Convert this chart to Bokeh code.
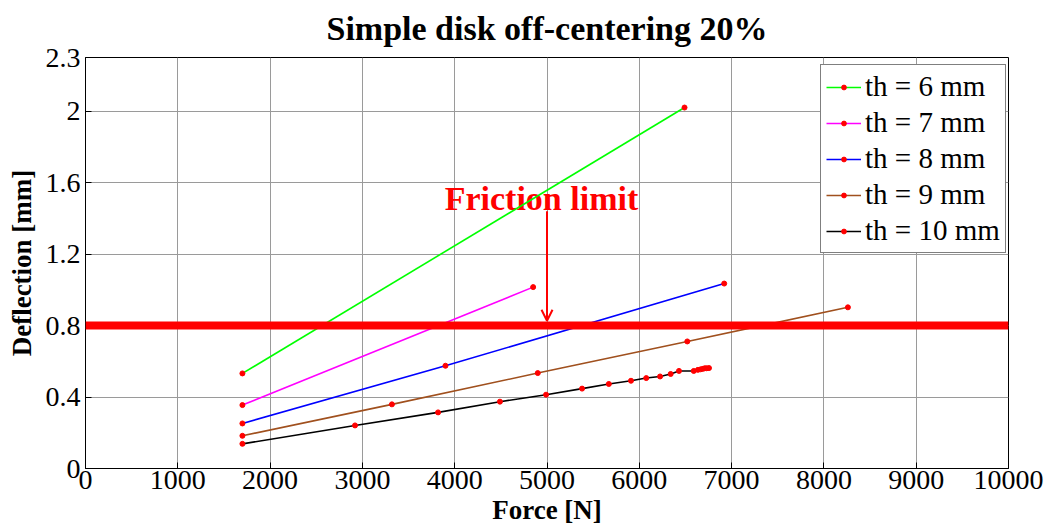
import math
from bokeh.plotting import figure
from bokeh.models import (Range1d, FixedTicker, CustomJSTickFormatter, Legend, LegendItem,
                          Span, Arrow, OpenHead, Label)
from bokeh.embed import file_html
from bokeh.resources import INLINE

# ---------------- data ----------------
title_text = "Simple disk off-centering 20%"
x_label = "Force [N]"
y_label = "Deflection [mm]"

series_labels = ["th = 6 mm", "th = 7 mm", "th = 8 mm", "th = 9 mm", "th = 10 mm"]
series_colors = ["#00FF00", "#FF00FF", "#0000FF", "#A0501E", "#000000"]

force_6 = [1700, 6490]
defl_6 = [0.532, 2.02]

force_7 = [1700, 4850]
defl_7 = [0.355, 1.015]

force_8 = [1700, 3900, 6920]
defl_8 = [0.252, 0.575, 1.035]

force_9 = [1700, 3320, 4900, 6520, 8260]
defl_9 = [0.183, 0.359, 0.534, 0.711, 0.902]

force_10 = [1700, 2920, 3820, 4490, 4990, 5380, 5670, 5910, 6075, 6225, 6340,
            6430, 6590, 6635, 6665, 6690, 6710, 6730, 6755]
defl_10 = [0.138, 0.241, 0.314, 0.374, 0.413, 0.447, 0.473, 0.491, 0.506, 0.515,
           0.529, 0.546, 0.546, 0.552, 0.555, 0.558, 0.561, 0.561, 0.562]

friction_limit = 0.8
friction_text = "Friction limit"
friction_arrow_x = 5000
friction_arrow_top = 1.44

x_ticks = [0, 1000, 2000, 3000, 4000, 5000, 6000, 7000, 8000, 9000, 10000]
y_ticks = [0, 0.4, 0.8, 1.2, 1.6, 2, 2.3]

forces = [force_6, force_7, force_8, force_9, force_10]
defls = [defl_6, defl_7, defl_8, defl_9, defl_10]

# ---------------- figure ----------------
FONT = "Liberation Serif"

p = figure(frame_width=923, frame_height=411,
           min_border_left=85, min_border_right=38,
           min_border_top=57, min_border_bottom=60,
           x_range=Range1d(0, 10000), y_range=Range1d(0, 2.3),
           output_backend="svg", toolbar_location=None,
           background_fill_color="white", border_fill_color="white",
           title=title_text)

p.title.text_font = FONT
p.title.text_font_style = "bold"
p.title.text_font_size = "34px"
p.title.text_color = "black"
p.title.align = "center"
p.title.vertical_align = "top"
p.title.standoff = 18

p.outline_line_color = "black"
p.outline_line_width = 1

p.xaxis.ticker = FixedTicker(ticks=x_ticks)
p.yaxis.ticker = FixedTicker(ticks=y_ticks)
p.xgrid.ticker = FixedTicker(ticks=x_ticks)
p.ygrid.ticker = FixedTicker(ticks=y_ticks)
p.grid.grid_line_color = "#9a9a9a"
p.grid.grid_line_width = 1

p.xaxis.formatter = CustomJSTickFormatter(code="return String(Math.round(tick));")
p.yaxis.formatter = CustomJSTickFormatter(code="return String(Math.round(tick*10)/10);")

p.xaxis.axis_label = x_label
p.yaxis.axis_label = y_label

for ax in (p.xaxis[0], p.yaxis[0]):
    ax.major_label_text_font = FONT
    ax.major_label_text_font_size = "28px"
    ax.major_label_text_color = "black"
    ax.axis_label_text_font = FONT
    ax.axis_label_text_font_style = "bold"
    ax.axis_label_text_font_size = "27px"
    ax.axis_label_text_color = "black"
    ax.axis_line_color = "black"
    ax.major_tick_line_color = "black"
    ax.major_tick_in = 6
    ax.major_tick_out = 0
    ax.minor_tick_in = 0
    ax.minor_tick_out = 0
p.xaxis.major_label_standoff = 2
p.xaxis.axis_label_standoff = 3
p.yaxis.major_label_standoff = 5
p.yaxis.axis_label_standoff = 6

# friction text (under the lines)
p.add_layout(Label(x=4940, y=1.51, text=friction_text, text_align="center",
                   text_baseline="alphabetic", text_font=FONT, text_font_style="bold",
                   text_font_size="34px", text_color="#FF0000", level="underlay"))

items = []
for lab, col, fx, dy in zip(series_labels, series_colors, forces, defls):
    lr = p.line(fx, dy, line_color=col, line_width=1.6)
    sr = p.scatter(fx, dy, size=5, fill_color="#FF0000", line_color="#FF0000")
    items.append(LegendItem(label=lab, renderers=[lr, sr]))

p.add_layout(Span(location=friction_limit, dimension="width",
                  line_color="#FF0000", line_width=8))
p.add_layout(Arrow(x_start=friction_arrow_x, y_start=friction_arrow_top,
                   x_end=friction_arrow_x, y_end=friction_limit + 0.027,
                   line_color="#FF0000", line_width=2,
                   end=OpenHead(size=11, line_color="#FF0000", line_width=2)))

legend = Legend(items=items, location=(735, 215), margin=0, padding=5,
                spacing=3, glyph_width=35, glyph_height=12, label_height=30,
                label_standoff=4, label_text_font=FONT, label_text_font_size="29px",
                label_text_color="black",
                border_line_color="black", border_line_width=1,
                background_fill_color="white", background_fill_alpha=1.0)
p.add_layout(legend)

open("out.html", "w").write(file_html(p, INLINE))
